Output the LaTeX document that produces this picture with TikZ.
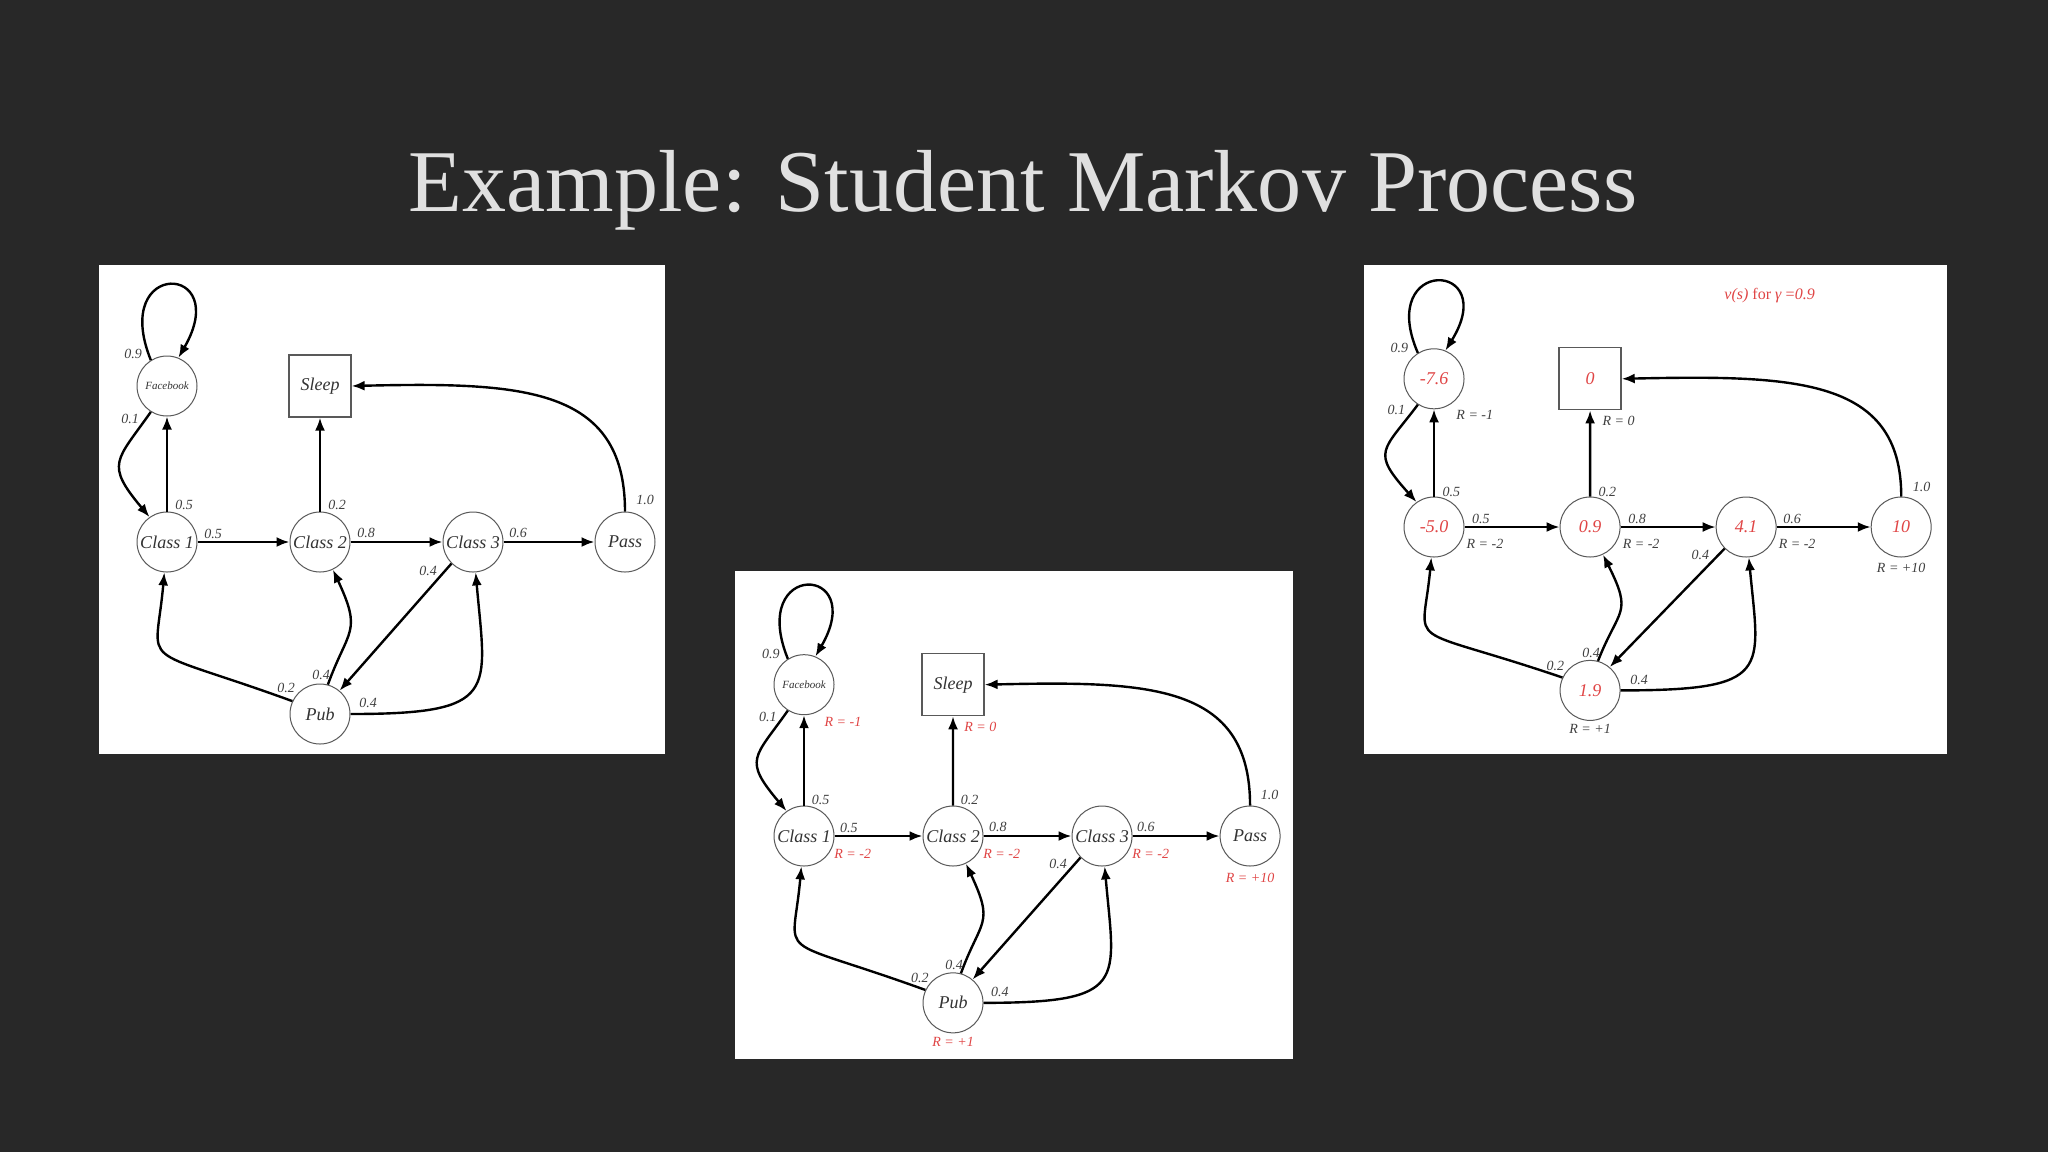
\documentclass[tikz,border=0pt]{standalone}
\usepackage{fontspec}
\setmainfont{Liberation Serif}
\usetikzlibrary{arrows.meta}
\definecolor{bg}{HTML}{282828}
\definecolor{rd}{HTML}{E04545}
\tikzset{
  st/.style={circle,draw=black!65,line width=0.5pt,minimum size=30pt,inner sep=0pt,font=\itshape\fontsize{9}{9}\selectfont,text=black!80},
  sq/.style={rectangle,draw=black!65,line width=0.6pt,minimum size=31pt,inner sep=0pt,font=\itshape\fontsize{9}{9}\selectfont,text=black!80},
  tr/.style={-{Latex[length=6.5pt,width=5pt]},line width=1.2pt,black},
  pl/.style={font=\itshape\fontsize{7}{7}\selectfont,text=black!75,inner sep=1pt},
  rl/.style={font=\itshape\fontsize{7}{7}\selectfont,inner sep=1pt},
  panelbg/.style={fill=white,draw=none}
}
\newcommand{\mydiagram}[7]{%
  \node[st] (fb) at (0,156) {};
  \node[sq,text=#7] (sl) at (153,156) {#1};
  \node[st,text=#7] (c1) at (0,0) {#2};
  \node[st,text=#7] (c2) at (153,0) {#3};
  \node[st,text=#7] (c3) at (306,0) {#4};
  \node[st,text=#7] (ps) at (458,0) {#5};
  \node[st,text=#7] (pb) at (153,-172) {#6};
  \draw[tr] (fb.122) .. controls +(112:110) and +(60:110) .. (fb.68);
  \draw[tr] (fb.238) .. controls +(235:60) and +(130:70) .. (c1.125);
  \draw[tr] (c1) -- (fb);
  \draw[tr] (c1) -- (c2);
  \draw[tr] (c2) -- (c3);
  \draw[tr] (c3) -- (ps);
  \draw[tr] (c2) -- (sl);
  \draw[tr] (ps.north) .. controls +(0,125) and +(170,4) .. (sl.east);
  \draw[tr] (c3.225) -- (pb.50);
  \draw[tr] (pb.155) .. controls +(160:170) and +(265:100) .. (c1.265);
  \draw[tr] (pb.75) .. controls +(70:60) and +(-65:70) .. (c2.-65);
  \draw[tr] (pb.east) .. controls +(150,0) and +(-85:120) .. (c3.-85);
  \node[pl] at (-34,188) {0.9};
  \node[pl] at (-37,123) {0.1};
  \node[pl] at (17,37) {0.5};
  \node[pl] at (46,8) {0.5};
  \node[pl] at (170,37) {0.2};
  \node[pl] at (199,9) {0.8};
  \node[pl] at (351,9) {0.6};
  \node[pl] at (261,-29) {0.4};
  \node[pl] at (478,42) {1.0};
  \node[pl] at (119,-146) {0.2};
  \node[pl] at (154,-133) {0.4};
  \node[pl] at (201,-161) {0.4};
}
\newcommand{\mylabels}[1]{%
  \node[rl,text=#1] at (40,118) {R = -1};
  \node[rl,text=#1] at (181,112) {R = 0};
  \node[rl,text=#1] at (50,-18) {R = -2};
  \node[rl,text=#1] at (203,-18) {R = -2};
  \node[rl,text=#1] at (356,-18) {R = -2};
  \node[rl,text=#1] at (458,-43) {R = +10};
  \node[rl,text=#1] at (153,-212) {R = +1};
}
\begin{document}
\begin{tikzpicture}[x=0.5pt,y=0.5pt]
\fill[bg] (0,0) rectangle (2048,-1152);
\useasboundingbox (0,0) rectangle (2048,-1152);
\node[text=white!88!black] (title) at (1023,-190) {\resizebox{614pt}{!}{Example: Student Markov Process}};
\fill[panelbg] (99,-265) rectangle (665,-754);
\begin{scope}[shift={(167,-542)},name prefix=a-]
  \mydiagram{Sleep}{Class 1}{Class 2}{Class 3}{Pass}{Pub}{black!80}
  \node[st,draw=none,font=\itshape\fontsize{5.5}{5.5}\selectfont] (fbt) at (fb) {Facebook};
\end{scope}
\fill[panelbg] (735,-571) rectangle (1293,-1059);
\begin{scope}[shift={(804,-836)},xscale=0.974,yscale=0.97,name prefix=b-]
  \mydiagram{Sleep}{Class 1}{Class 2}{Class 3}{Pass}{Pub}{black!80}
  \node[st,draw=none,font=\itshape\fontsize{5.5}{5.5}\selectfont] (fbt) at (fb) {Facebook};
  \mylabels{rd}
\end{scope}
\fill[panelbg] (1364,-265) rectangle (1947,-754);
\begin{scope}[shift={(1434,-527)},xscale=1.02,yscale=0.95,name prefix=c-]
  \mydiagram{0}{-5.0}{0.9}{4.1}{10}{1.9}{rd}
  \node[st,draw=none,text=rd] (fbt) at (fb) {-7.6};
  \mylabels{black!75}
  \node[rl,text=rd,font=\fontsize{8}{8}\selectfont] (vs) at (329,244) {\textit{v(s)} for \textit{γ} =\textit{0.9}};
\end{scope}
\end{tikzpicture}
\end{document}
